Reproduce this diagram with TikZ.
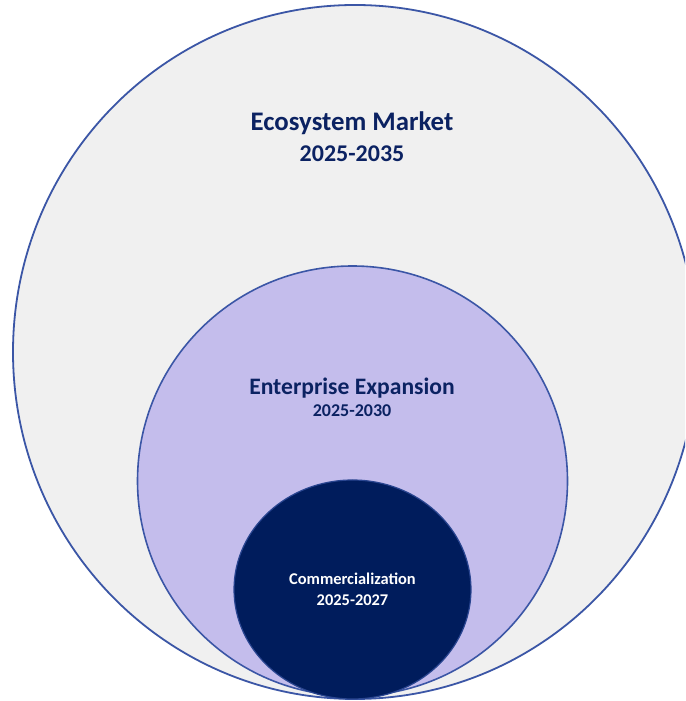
\documentclass[tikz,border=0pt]{standalone}
\usepackage{fontspec}
\setmainfont{Carlito}
\usetikzlibrary{shapes.geometric}
\definecolor{outerfill}{HTML}{F0F0F0}
\definecolor{ringblue}{HTML}{3B56A6}
\definecolor{midfill}{HTML}{C4BDEC}
\definecolor{innerfill}{HTML}{001C5C}
\definecolor{navytext}{HTML}{0B2262}
\begin{document}
\begin{tikzpicture}[x=1pt,y=1pt,
  ring/.style={ellipse, inner sep=0pt, outer sep=0pt},
  ttl/.style={text=navytext, align=center, inner sep=0pt}]
\useasboundingbox (0,0) rectangle (685,701);
\clip (0,0) rectangle (685,701);
\fill[white] (0,0) rectangle (685,701);
\node[ring, draw=ringblue, line width=1.8pt, fill=outerfill, minimum width=684pt, minimum height=694pt] (outer) at (355,349) {};
\node[ring, draw=ringblue, line width=1.6pt, fill=midfill, minimum width=430pt, minimum height=430pt] (mid) at (352.5,220) {};
\node[ring, draw=ringblue!70!innerfill, line width=1.2pt, fill=innerfill, minimum width=237pt, minimum height=219pt] (inner) at (352.5,111.5) {};
\node[ttl, font=\bfseries\fontsize{26.8}{30}\selectfont] (eco) at (352,578) {Ecosystem Market};
\node[ttl, font=\bfseries\fontsize{24}{28}\selectfont] (ecoyr) at (352,547) {2025-2035};
\node[ttl, font=\bfseries\fontsize{23.6}{26}\selectfont] (ent) at (352,313) {Enterprise Expansion};
\node[ttl, font=\bfseries\fontsize{18}{20}\selectfont] (entyr) at (352,290) {2025-2030};
\node[ttl, text=white, font=\bfseries\fontsize{16.4}{18}\selectfont] (com) at (352.5,122.5) {Commercialization};
\node[ttl, text=white, font=\bfseries\fontsize{16.4}{18}\selectfont] (comyr) at (352.5,100.5) {2025-2027};
\end{tikzpicture}
\end{document}
